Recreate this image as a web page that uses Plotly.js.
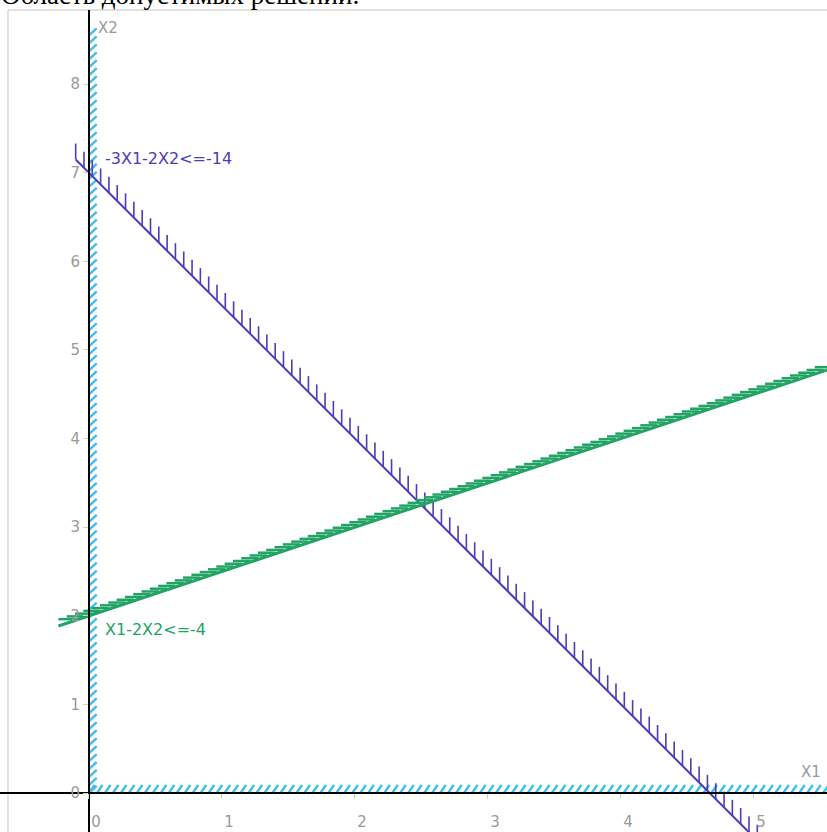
<!DOCTYPE html>
<html>
<head>
<meta charset="utf-8">
<script src="https://cdn.plot.ly/plotly-3.0.1.min.js"></script>
<style>html,body{margin:0;padding:0;background:#fff;}#chart{width:827px;height:832px;}</style>
</head>
<body>
<div id="chart"></div>
<script>
// ---- data ----
const chartTitle = "Область допустимых решений:";
const x1Ticks = [0, 1, 2, 3, 4, 5];
const x2Ticks = [0, 1, 2, 3, 4, 5, 6, 7, 8];
const x1Name = "X1";
const x2Name = "X2";

// constraints a1*X1 + a2*X2 <= rhs
const consNames = ["-3X1-2X2<=-14", "X1-2X2<=-4"];
const consA1 = [-3, 1];
const consA2 = [-2, -2];
const consRhs = [-14, -4];
const consX1From = [-0.1, -0.23];
const consX1To = [5.1, 5.6];

// non-negativity bounds
const boundX1Extent = [0, 8.6];   // X1>=0 drawn along X2 from..to
const boundX2Extent = [0, 5.6];   // X2>=0 drawn along X1 from..to

// ---- styles ----
const blue = "#4b3cb8";
const green = "#22a366";
const cyan = "#3cbff0";
const grey = "#9a9a9a";

function lineY(i, x) { return (consRhs[i] - consA1[i] * x) / consA2[i]; }

const traces = [];

// X1>=0 hatches along the X2 axis
(function () {
  const hx = [], hy = [];
  for (let y = boundX1Extent[0]; y <= boundX1Extent[1] + 1e-9; y += 0.09) {
    hx.push(0, 0.058, null); hy.push(y, y + 0.08, null);
  }
  traces.push({x: hx, y: hy, mode: "lines", line: {color: cyan, width: 2.4}, hoverinfo: "skip", showlegend: false});
})();

// X2>=0 hatches along the X1 axis
(function () {
  const hx = [], hy = [];
  for (let x = boundX2Extent[0]; x <= boundX2Extent[1] + 1e-9; x += 0.06) {
    hx.push(x, x + 0.042, null); hy.push(0, 0.09, null);
  }
  traces.push({x: hx, y: hy, mode: "lines", line: {color: cyan, width: 2.4}, hoverinfo: "skip", showlegend: false});
})();

// constraint 0: line + vertical hatches going up
(function () {
  const i = 0;
  traces.push({x: [consX1From[i], consX1To[i]], y: [lineY(i, consX1From[i]), lineY(i, consX1To[i])],
    mode: "lines", line: {color: blue, width: 2}, hoverinfo: "skip", showlegend: false});
  const hx = [], hy = [];
  for (let x = consX1From[i]; x <= consX1To[i] + 1e-9; x += 0.0625) {
    const y = lineY(i, x);
    hx.push(x, x, null); hy.push(y, y + 0.18, null);
  }
  traces.push({x: hx, y: hy, mode: "lines", line: {color: blue, width: 1.6}, hoverinfo: "skip", showlegend: false});
})();

// constraint 1: line + horizontal hatches going left
(function () {
  const i = 1;
  traces.push({x: [consX1From[i], consX1To[i]], y: [lineY(i, consX1From[i]), lineY(i, consX1To[i])],
    mode: "lines", line: {color: green, width: 3}, hoverinfo: "skip", showlegend: false});
  const hx = [], hy = [];
  for (let x = consX1From[i] + 0.13; x <= consX1To[i] + 1e-9; x += 0.0625) {
    const y = lineY(i, x) + 0.012;
    hx.push(x, x - 0.13, null); hy.push(y, y, null);
  }
  traces.push({x: hx, y: hy, mode: "lines", line: {color: green, width: 2.5}, hoverinfo: "skip", showlegend: false});
})();

const tickFont = {family: "DejaVu Sans", size: 15, color: grey};

const layout = {
  width: 827, height: 832,
  margin: {l: 0, r: 0, t: 10, b: 0, pad: 0},
  paper_bgcolor: "#ffffff", plot_bgcolor: "#ffffff",
  showlegend: false,
  xaxis: {
    range: [-0.669, 5.549], anchor: "free", position: 0.0474,
    showgrid: false, zeroline: false,
    showline: true, linecolor: "#000", linewidth: 2,
    tickmode: "array", tickvals: x1Ticks, ticktext: x1Ticks.map(String),
    ticks: "outside", ticklen: 5, tickcolor: "#b8e0b8", tickwidth: 1,
    tickfont: tickFont, ticklabelstandoff: 10, ticklabelshift: 7
  },
  yaxis: {
    range: [-0.44, 8.837], anchor: "free", position: 0.1076,
    showgrid: false, zeroline: false,
    showline: true, linecolor: "#000", linewidth: 2,
    tickmode: "array", tickvals: x2Ticks, ticktext: x2Ticks.map(String),
    ticks: "outside", ticklen: 5, tickcolor: "#b8e0b8", tickwidth: 1,
    tickfont: tickFont, ticklabelstandoff: 0
  },
  shapes: [{type: "rect", xref: "paper", yref: "paper", x0: 0.00967, x1: 1.01, y0: -0.01, y1: 1,
    line: {color: "#c4c4c4", width: 1}, fillcolor: "rgba(0,0,0,0)", layer: "below"}],
  annotations: [
    {text: chartTitle, xref: "paper", yref: "paper", x: 0, y: 1, xanchor: "left", yanchor: "bottom",
     xshift: -1, yshift: -2, showarrow: false, font: {family: "Liberation Serif", size: 27, color: "#000"}},
    {text: consNames[0], x: 0.105, y: 7.16, xanchor: "left", yanchor: "middle", showarrow: false,
     font: {family: "DejaVu Sans", size: 16, color: blue}},
    {text: consNames[1], x: 0.105, y: 1.85, xanchor: "left", yanchor: "middle", showarrow: false,
     font: {family: "DejaVu Sans", size: 16, color: green}},
    {text: x2Name, x: 0.05, y: 8.63, xanchor: "left", yanchor: "middle", showarrow: false,
     font: {family: "DejaVu Sans", size: 15, color: grey}},
    {text: x1Name, x: 5.34, y: 0.24, xanchor: "left", yanchor: "middle", showarrow: false,
     font: {family: "DejaVu Sans", size: 15, color: grey}}
  ]
};

Plotly.newPlot("chart", traces, layout, {staticPlot: true, displayModeBar: false});
</script>
</body>
</html>
